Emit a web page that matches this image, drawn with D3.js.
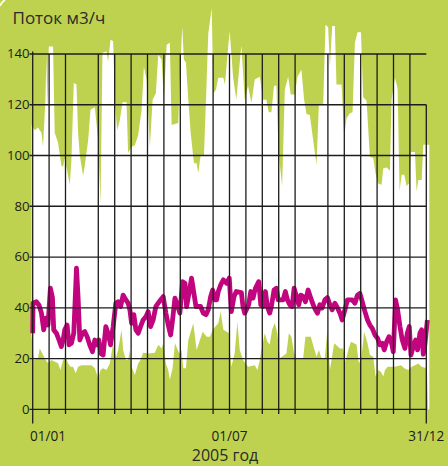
<!DOCTYPE html>
<html><head><meta charset="utf-8">
<script src="https://cdn.jsdelivr.net/npm/d3@7"></script>
<style>html,body{margin:0;padding:0;background:#bfd24f;}svg{display:block;}</style>
</head><body>
<svg id="chart" width="448" height="466"></svg>
<script>
// ---- data (day of year, m3/h) ----
const upperSeries = [[-1,112],[1.9,110],[4.9,111],[8.1,109],[9.6,103.5],[11.8,122],[12.7,139],[13.6,118],[14.9,143],[18.9,143],[20.4,109],[23.5,105],[26.6,96],[28.2,95.6],[29.7,99],[32.8,92],[34.4,88.5],[35.9,98],[38.1,128.6],[40.6,128],[42.1,109],[43.7,100],[46.7,92],[48.3,96],[51.4,106],[53.6,118],[57.6,119],[60.7,106],[62.9,81],[64.7,140.5],[68.4,141],[69.9,137],[72.2,145.6],[74.6,145],[76.2,122],[78.3,110],[80.8,114],[83.3,121],[87,121],[88.5,101],[91.7,103.5],[94.7,104],[97.8,108],[101,118],[103.1,135],[105.6,130],[108.7,103.5],[111.2,122],[114.2,124.5],[116.4,139.7],[119.5,137.8],[121.7,122],[124.2,143.6],[127.2,144.4],[128.8,112],[135,112.8],[136.5,131.7],[138.7,150.7],[140.2,137.8],[142.1,136.6],[144.3,122],[146.5,109],[149.5,97],[152,97],[153.5,93],[155.7,100],[158.8,100],[160.7,122],[162.8,148],[166,158],[167.5,124.3],[170,126],[172.1,130.6],[176.8,130.6],[178.3,128],[181.4,143.6],[182.7,149],[185.8,131],[188.8,122],[193.5,143.4],[196.6,122],[199.7,127.5],[202.8,120.7],[205.9,130],[210.6,131],[213.6,122],[216.7,122],[218.9,117],[221.3,117],[223.8,127.5],[226,127.5],[227.6,106],[229.1,97],[231.3,88],[233.8,126],[236.9,131],[239.3,124],[243.1,124],[245.5,131],[249.2,133.8],[251.7,122],[253.9,116.4],[257,116],[260.1,106],[263.2,96.4],[265.4,120.3],[269.4,120.3],[271.5,151.5],[274,150.5],[275.6,135],[277.7,151],[280.2,151],[281.7,128],[286.4,128],[288.9,107.4],[291,114.7],[294.2,116.7],[296.6,117],[298.8,144.4],[301.2,148.6],[304.4,148.6],[306.5,123],[309.6,121.6],[312.7,99.5],[315.8,99],[317.9,93],[320.4,89],[323.5,88.5],[325.1,95],[328.2,95.3],[331.3,94],[332.8,122],[335.9,130.6],[338.4,126.5],[340.2,86],[342.1,92.4],[344.6,92.4],[346.7,88],[348.9,89],[350.8,101.4],[354.5,101.4],[356,85.7],[357.6,90.4],[360.7,90.4],[362.2,104.2],[367.8,104.2]];

const lowerSeries = [[-1,28.6],[0.9,19.4],[4.9,20.1],[6.5,24],[9,22],[11.1,20.1],[14.2,18.1],[17.4,19.4],[23.5,18.1],[25.7,15.5],[28.2,19.4],[30.6,20.7],[32.8,18],[35,16.8],[37.4,16.8],[39.9,14.2],[42.1,16.8],[45.2,17.4],[54.5,17.4],[57.6,16.2],[60.7,12.2],[62.9,15.5],[65.3,16.2],[68.4,15.5],[71.5,18],[74.6,26],[77.1,20.1],[79.2,23.4],[82.4,31.3],[83.9,23.4],[86.4,19.4],[88.5,19.4],[90.1,23.4],[91.7,16.8],[94.7,13.5],[97.8,18],[100,19.4],[102.4,22.3],[108,22],[113.3,22.3],[116.4,25.4],[119.5,24],[121,26],[123.5,18],[125.7,15.5],[127.2,11.6],[129.7,16.2],[131.9,26],[135.9,22],[138.1,23.4],[139.6,16.2],[142.1,16.2],[144.3,27.3],[148.9,33.9],[152,23.4],[155.1,27.3],[157.6,30.6],[161.3,28.6],[164.4,28.6],[166.9,31.3],[172.1,33.9],[174.3,38.5],[176.8,31.3],[182,30],[182.8,23.4],[184.2,16.8],[187.3,22],[189.8,34.5],[192,23.4],[195,19.4],[199.7,16.8],[205.9,17.4],[208.3,15.5],[210.6,19.4],[212.1,23.4],[215.2,30],[217.6,26.6],[219.8,25.5],[222,31.3],[224.5,34],[226.9,30],[229.1,20.1],[235.3,22],[237.5,30],[239.9,28.6],[242.4,22],[244.6,20.1],[250.8,20.1],[252.9,28.6],[257.9,28.6],[260.1,25.2],[263.2,20.7],[265.4,23.4],[267.8,20.1],[270.9,20.1],[273.3,31.3],[275.6,15.5],[277.1,19.4],[279.6,26],[284.9,24],[287.9,24],[290.1,18.7],[292.6,23.4],[295.1,26.6],[300.3,25.5],[302.5,18],[304.9,20.7],[307.4,30.6],[310.5,26],[312.7,21.4],[315.8,20.7],[317.9,12.9],[320.4,15.5],[322.9,14.8],[325.1,12.9],[326.7,15.5],[329.1,16.8],[335.9,16.8],[341.5,17.4],[344.6,16.2],[348.3,15.5],[351.4,16.8],[354.5,17.4],[357.6,18],[360.7,16.8],[365.6,16.2],[366.6,0],[367.8,0]];

const meanSeries = [[0,30],[0.3,41.8],[3.4,42.4],[5.9,41],[8.1,37.9],[10.2,31.3],[12.1,35.9],[14.2,33.2],[16.4,47.7],[18.3,44],[19.5,31.3],[22,30],[24.4,27.3],[26.6,24.7],[28.2,27.3],[29.7,31.3],[31.9,33.2],[33.7,25.4],[35.9,26],[38.1,30],[40.6,55.6],[42.1,44],[43.7,27.3],[46.1,30],[48.3,30.6],[50.5,28.6],[52.9,25.4],[55.4,22.7],[57.6,27.3],[59.1,25.4],[61.3,27.3],[63.2,22],[65.3,21.4],[67.8,32.6],[69.9,30],[72.2,25.4],[74.6,32.6],[77.1,41.8],[79.2,42.4],[81.5,40.5],[83.9,45],[86.4,43.1],[88.5,41.8],[90.1,39.2],[91.7,33.9],[93.8,37.3],[95.7,31.3],[97.8,30],[100,32.6],[102.4,35.2],[105,36.5],[107.1,38.5],[109.3,32.6],[111.7,35.2],[114.2,40.5],[116.4,41.8],[118.6,43.1],[121,44.4],[123.5,37.9],[125.7,33.2],[127.9,29.3],[129.7,35.2],[131.9,43.8],[134,41.2],[136.5,37.9],[139,50.3],[141.2,49.7],[142.7,40.5],[145.2,46.4],[147.3,51.7],[149.5,45.7],[151.4,40.5],[155.7,40.5],[158.2,37.9],[160.7,37.3],[162.8,39.2],[165,44.4],[166.9,47],[169,43.1],[170.6,43.1],[172.1,46.4],[174.3,49],[176.8,51],[179.9,49.7],[182.3,51.7],[184.2,38.5],[186.7,44.4],[188.8,46.4],[193.5,46],[195,40.5],[196.6,37.9],[200.3,41.2],[202.2,46.4],[204.3,43.8],[206.5,47.7],[209.6,50.3],[211.5,41.2],[213.6,40.5],[215.8,46.4],[217.6,40.5],[219.8,37.9],[221.3,40.5],[223.8,47],[226,47.7],[227.6,43.1],[232.2,43.1],[234.3,46.4],[236.2,43.1],[238.4,41.2],[240.6,40.5],[242.4,47.7],[244.6,44.4],[246.8,41.2],[248.6,45],[250.8,44.4],[252.9,42.4],[255.4,47],[257.9,43.8],[260.1,41.2],[262.2,39.2],[264.1,37.9],[266.3,41.2],[268.4,39.9],[270.9,43.1],[273.3,44],[275.6,41.2],[277.7,39.2],[280.2,41.8],[282.6,40],[284.9,37.9],[287,35.2],[289.5,39.2],[291.9,43.1],[296.3,43.1],[298.8,41.8],[301.2,45],[303.4,45.7],[305.6,42.4],[308.1,38.5],[310.5,35.2],[312.7,33.2],[314.9,31.9],[317.4,29.3],[319.8,28],[322,25.4],[324.2,26],[326,23.4],[328.2,26.6],[330.4,28.6],[332.8,26],[334.4,22.7],[336.5,43.1],[338.4,39.2],[340.6,32.6],[342.7,27.3],[345.2,24],[347.4,30],[349.2,32.6],[350.8,21.4],[352.9,24.7],[355.1,27.3],[356.9,23.4],[359.1,30],[360.7,31.3],[362.2,21.7],[363.8,26],[366,35.2]];

const yTicks = [0, 20, 40, 60, 80, 100, 120, 140];
const xTickDays = [0, 182.5, 365];
const xTickLabels = ["01/01", "01/07", "31/12"];
const gridSteps = [0,1,2,4,5,6,7,8,9,11,12,13,14,15,16,18,19,20,21,22,23,24]; // half-month grid lines
const yTitle = "Поток м3/ч";
const xTitle = "2005 год";

// ---- drawing ----
const svg = d3.select("#chart");
const green = "#bfd24f", magenta = "#c1057f", ink = "#1c1c1c";
const x = d3.scaleLinear().domain([0, 365]).range([32.7, 426.3]);
const y = d3.scaleLinear().domain([0, 140]).range([409.3, 54]);

svg.append("rect").attr("width", 448).attr("height", 466).attr("fill", green);

// white band between min and max
const line = d3.line().x(d => x(d[0])).y(d => y(d[1]));
const band = upperSeries.concat(lowerSeries.slice().reverse());
svg.append("path").attr("d", line(band) + "Z").attr("fill", "#fff");

// mean line
svg.append("path").datum(meanSeries).attr("d", line)
  .attr("fill", "none").attr("stroke", magenta).attr("stroke-width", 4.8)
  .attr("stroke-linejoin", "round");

// grid
const g = svg.append("g").attr("stroke", ink).attr("stroke-width", 1.3);
yTicks.forEach(v => {
  g.append("line").attr("x1", 29.5).attr("x2", x(365)).attr("y1", y(v)).attr("y2", y(v));
});
gridSteps.forEach(k => {
  const d = k * 365 / 24;
  const isEdge = (k === 0 || k === 24);
  const top = k === 24 ? y(120) : (k === 0 ? y(141) : y(140));
  g.append("line").attr("x1", x(d)).attr("x2", x(d))
    .attr("y1", top).attr("y2", isEdge ? 423.5 : y(0) + 4.8);
});

// y tick labels
svg.append("g").selectAll("text").data(yTicks).join("text")
  .attr("x", 29.5).attr("y", d => y(d) + 4.4)
  .attr("text-anchor", "end")
  .attr("font-family", "Open Sans, sans-serif").attr("font-size", 13.2)
  .attr("fill", ink).text(d => d);

// x tick labels
svg.append("g").selectAll("text").data(xTickDays).join("text")
  .attr("x", (d, i) => i === 0 ? x(d) - 2.8 : x(d))
  .attr("y", 440.6)
  .attr("text-anchor", (d, i) => i === 0 ? "start" : "middle")
  .attr("font-family", "Open Sans, sans-serif").attr("font-size", 13.6)
  .attr("fill", ink).text((d, i) => xTickLabels[i]);

svg.append("text").attr("x", 12.5).attr("y", 24)
  .attr("font-family", "Open Sans, sans-serif").attr("font-size", 17)
  .attr("fill", "#2a2a2a").text(yTitle);

svg.append("text").attr("x", 225).attr("y", 461.2)
  .attr("text-anchor", "middle")
  .attr("font-family", "Open Sans, sans-serif").attr("font-size", 16)
  .attr("fill", "#2a2a2a").text(xTitle);

// small white corner arc (top-left)
svg.append("path").attr("d", "M0,6 Q1.5,2 5,0").attr("fill", "none")
  .attr("stroke", "#fff").attr("stroke-width", 1.6);
</script>
</body></html>
